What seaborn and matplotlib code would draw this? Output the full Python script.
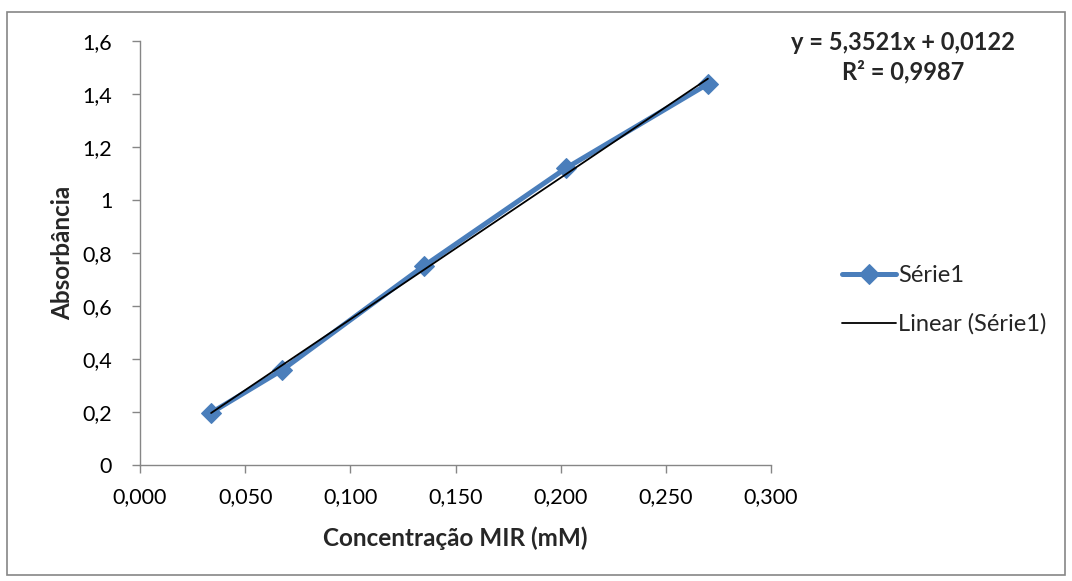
import numpy as np
import pandas as pd
import matplotlib
matplotlib.use("Agg")
import matplotlib.pyplot as plt
import seaborn as sns
from matplotlib.patches import Rectangle

concentracao = [0.0338, 0.0675, 0.135, 0.2025, 0.270]
absorbancia = [0.197, 0.358, 0.751, 1.120, 1.438]
x_ticks = [0.0, 0.05, 0.10, 0.15, 0.20, 0.25, 0.30]
x_labels = ["0,000", "0,050", "0,100", "0,150", "0,200", "0,250", "0,300"]
y_ticks = [0, 0.2, 0.4, 0.6, 0.8, 1.0, 1.2, 1.4, 1.6]
y_labels = ["0", "0,2", "0,4", "0,6", "0,8", "1", "1,2", "1,4", "1,6"]
equation = "y = 5,3521x + 0,0122"
r2 = "R² = 0,9987"

sns.set_theme(style="white")
plt.rcParams['font.family'] = ['Lato', 'DejaVu Sans']

fig = plt.figure(figsize=(10.72, 5.81), dpi=100)
ax = fig.add_axes([140/1072, 1-465/581, (771-140)/1072, (465-41)/581])

df = pd.DataFrame({"x": concentracao, "y": absorbancia})
blue = "#4A7EBB"
sns.lineplot(data=df, x="x", y="y", ax=ax, color=blue, linewidth=3.6,
             marker="D", markersize=10, markeredgecolor=blue, label="Série1")

slope, intercept = np.polyfit(concentracao, absorbancia, 1)
xs = np.array([min(concentracao), max(concentracao)])
trend = pd.DataFrame({"x": xs, "y": slope * xs + intercept})
sns.lineplot(data=trend, x="x", y="y", ax=ax, color="black", linewidth=1.3,
             label="Linear (Série1)")

ax.set_xlim(0, 0.3)
ax.set_ylim(0, 1.6)
ax.set_xticks(x_ticks)
ax.set_xticklabels(x_labels)
ax.set_yticks(y_ticks)
ax.set_yticklabels(y_labels)
ax.tick_params(axis="both", which="both", direction="out", length=6, width=1,
               color="#868686", labelsize=15.5, labelcolor="black", bottom=True, left=True)
ax.tick_params(axis="x", pad=10)
ax.tick_params(axis="y", pad=14)
for s in ["top", "right"]:
    ax.spines[s].set_visible(False)
for s in ["left", "bottom"]:
    ax.spines[s].set_color("#868686")
    ax.spines[s].set_linewidth(1)

ax.set_xlabel("Concentração MIR (mM)", fontsize=17.5, fontweight="bold", labelpad=14)
ax.set_ylabel("Absorbância", fontsize=17.5, fontweight="bold", labelpad=6)

fig.text(903/1072, 1-42/581, equation, fontsize=17, fontweight="bold", ha="center", va="center")
fig.text(903/1072, 1-72/581, r2, fontsize=17, fontweight="bold", ha="center", va="center")

leg = ax.legend(loc="center left", bbox_to_anchor=(842/1072, 1-300/581), bbox_transform=fig.transFigure,
                frameon=False, fontsize=17, handlelength=2.3, labelspacing=1.15, handletextpad=0.08,
                borderpad=0, borderaxespad=0)

fig.patches.append(Rectangle((7/1072, 1-575/581), (1065-7)/1072, (575-12)/581,
                             transform=fig.transFigure, fill=False, edgecolor="#868686", linewidth=1.2))

fig.savefig("out.png", dpi=100)
